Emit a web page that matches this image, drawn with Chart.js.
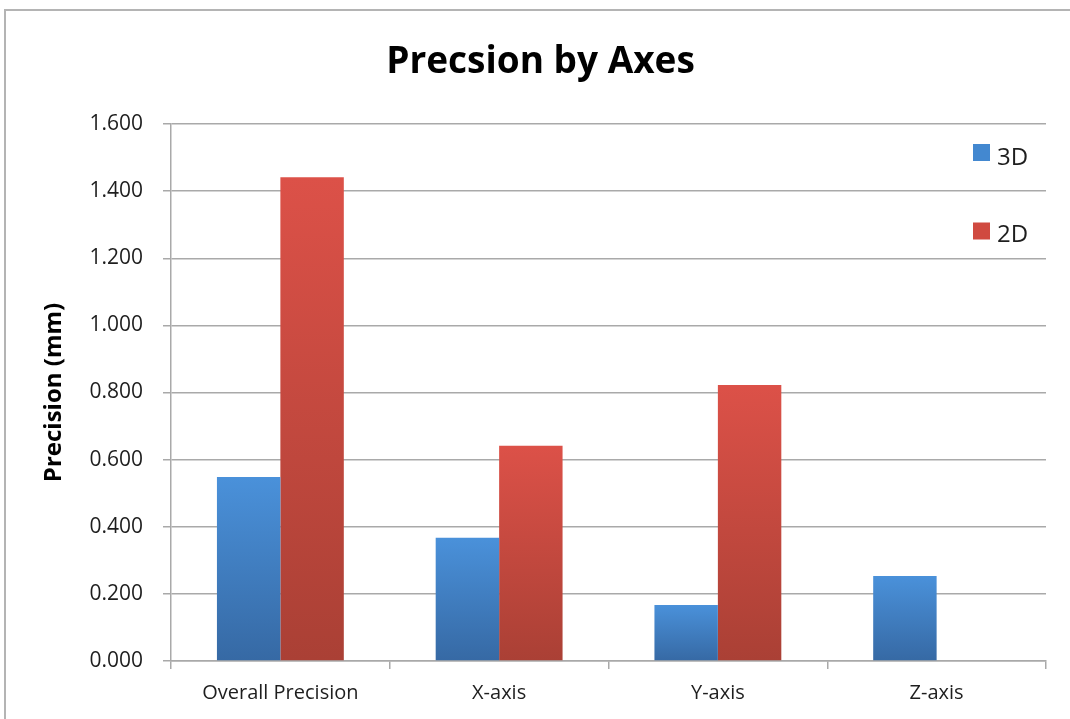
<!DOCTYPE html>
<html>
<head>
<meta charset="utf-8">
<script src="https://cdn.jsdelivr.net/npm/chart.js@4/dist/chart.umd.min.js"></script>
<style>
  html, body { margin: 0; padding: 0; background: #fff; }
  #wrap { position: relative; width: 1070px; height: 719px; overflow: hidden; }
  #frame { position: absolute; left: 4px; top: 9px; width: 1100px; height: 760px;
           border-left: 2px solid #b4b4b4; border-top: 2px solid #b4b4b4; pointer-events: none; }
  canvas { position: absolute; left: 0; top: 0; }
</style>
</head>
<body>
<div id="wrap">
  <canvas id="chart" width="1070" height="719"></canvas>
  <div id="frame"></div>
</div>
<script>
// Chart content
const chartTitle = 'Precsion by Axes';
const yAxisTitle = 'Precision (mm)';
const categories = ['Overall Precision', 'X-axis', 'Y-axis', 'Z-axis'];
const seriesNames = ['3D', '2D'];
const values3D = [0.548, 0.367, 0.167, 0.253];
const values2D = [1.441, 0.641, 0.822, null];
const yTicks = [0, 0.2, 0.4, 0.6, 0.8, 1.0, 1.2, 1.4, 1.6];

const FONT = '"Open Sans", "Liberation Sans", sans-serif';
const INK = '#1e1e1e';
const GRID = '#a9a9a9';

// each bar gets its own top-to-bottom shading
const palettes = [
  { top: '#4a91da', bottom: '#3669a4', swatch: '#4388d0' },
  { top: '#dc5148', bottom: '#aa4035', swatch: '#d04a40' }
];
function barFill(idx) {
  return (ctx) => {
    const p = palettes[idx];
    const chart = ctx.chart;
    const y = chart.scales && chart.scales.y;
    if (ctx.type !== 'data' || ctx.raw == null || !y || !chart.chartArea) return p.swatch;
    const yTop = y.getPixelForValue(ctx.raw);
    const yBase = y.getPixelForValue(0);
    if (!isFinite(yTop) || !isFinite(yBase) || yBase - yTop < 1) return p.swatch;
    const g = chart.ctx.createLinearGradient(0, yTop, 0, yBase);
    g.addColorStop(0, p.top);
    g.addColorStop(1, p.bottom);
    return g;
  };
}

// legend drawn inside the plot, on the right, with wide spacing
const sideLegend = {
  id: 'sideLegend',
  afterDraw(chart) {
    const c = chart.ctx;
    const x = 973, boxes = [152.5, 231], baselines = [165, 242];
    c.save();
    chart.data.datasets.forEach((ds, i) => {
      c.fillStyle = palettes[i].swatch;
      c.fillRect(x, boxes[i] - 8.5, 17, 17);
      c.fillStyle = INK;
      c.font = '24px ' + FONT;
      c.textBaseline = 'alphabetic';
      c.textAlign = 'left';
      c.fillText(ds.label, x + 24, baselines[i]);
    });
    c.restore();
  }
};

new Chart(document.getElementById('chart'), {
  type: 'bar',
  data: {
    labels: categories,
    datasets: [
      { label: seriesNames[0], data: values3D, backgroundColor: barFill(0) },
      { label: seriesNames[1], data: values2D, backgroundColor: barFill(1) }
    ]
  },
  options: {
    responsive: false,
    animation: false,
    devicePixelRatio: 1,
    layout: { padding: { left: 35, right: 24, top: 0, bottom: 0 } },
    datasets: { bar: { categoryPercentage: 0.58, barPercentage: 1.0 } },
    plugins: {
      legend: { display: false },
      tooltip: { enabled: false },
      title: {
        display: true,
        text: chartTitle,
        color: '#000',
        font: { family: FONT, size: 37, weight: 'bold' },
        padding: { top: 40, bottom: 39.6 }
      }
    },
    scales: {
      x: {
        grid: { offset: true, drawOnChartArea: false, drawTicks: true, tickLength: 8, color: GRID, lineWidth: 1.5 },
        border: { color: GRID, width: 1.5 },
        ticks: { color: INK, font: { family: FONT, size: 20 }, padding: 12, maxRotation: 0 },
        afterFit(s) { s.height = 58; }
      },
      y: {
        min: 0, max: 1.6,
        afterBuildTicks(s) { s.ticks = yTicks.map(v => ({ value: v })); },
        grid: { color: GRID, lineWidth: 1.5, tickLength: 8 },
        border: { color: GRID, width: 1.5 },
        ticks: { color: INK, font: { family: FONT, size: 21 }, padding: 20,
                 callback: v => Number(v).toFixed(3) },
        title: { display: true, text: yAxisTitle, color: '#000',
                 font: { family: FONT, size: 24, weight: 'bold' }, padding: { top: 5, bottom: 0 } },
        afterFit(s) { s.width = 136; }
      }
    }
  },
  plugins: [sideLegend]
});
</script>
</body>
</html>
